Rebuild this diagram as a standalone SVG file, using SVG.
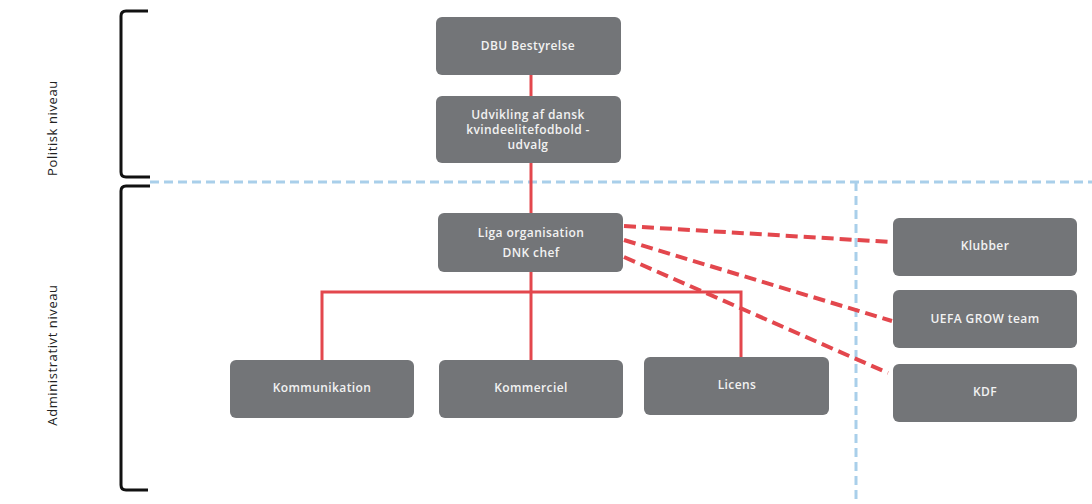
<svg xmlns="http://www.w3.org/2000/svg" width="1092" height="504" viewBox="0 0 1092 504">
<style>
.box{fill:#737578;}
.t{font-family:"Open Sans","Liberation Sans",sans-serif;font-size:12px;font-weight:600;fill:#f2f2f2;text-anchor:middle;letter-spacing:0.4px;}
.lbl{font-family:"Open Sans","Liberation Sans",sans-serif;font-size:13px;fill:#222;text-anchor:middle;letter-spacing:0.6px;}
.br{fill:none;stroke:#111;stroke-width:3;stroke-linejoin:round;}
.sep{fill:none;stroke:#a9cfea;stroke-width:3;stroke-dasharray:9 5;}
.solid{fill:none;stroke:#e3474d;stroke-width:3;}
.dash{fill:none;stroke:#e3474d;stroke-width:4;stroke-dasharray:12 6;}
</style>
<rect width="1092" height="504" fill="#fff"/>
<g id="brackets">
<path class="br" d="M148,11 H126 Q121,11 121,16 V172 Q121,177 126,177 H150"/>
<path class="br" d="M150,186 H126 Q121,186 121,191 V485 Q121,490 126,490 H148"/>
<text class="lbl" transform="translate(57,128) rotate(-90)">Politisk niveau</text>
<text class="lbl" transform="translate(57,355) rotate(-90)">Administrativt  niveau</text>
</g>
<g id="separators">
<path class="sep" d="M150,182 H1092"/>
<path class="sep" d="M856,182 V500"/>
</g>
<g id="connectors">
<path class="solid" d="M531,75 V292"/>
<path class="solid" d="M322,360 V292 H741 V357"/>
<path class="solid" d="M531,292 V360"/>
<path class="dash" d="M624,226 L891,242"/>
<path class="dash" d="M624,240 L892,321"/>
<path class="dash" d="M624,257 L888,373"/>
</g>
<g id="dbu"><rect class="box" x="436" y="17" width="185" height="58" rx="6"/><text class="t" x="528" y="50">DBU Bestyrelse</text></g>
<g id="udvikling"><rect class="box" x="436" y="96" width="185" height="67" rx="6"/>
<text class="t" x="528" y="119">Udvikling af dansk</text>
<text class="t" x="528" y="134">kvindeelitefodbold -</text>
<text class="t" x="528" y="149">udvalg</text></g>
<g id="liga"><rect class="box" x="438" y="213" width="185" height="59" rx="6"/>
<text class="t" x="531" y="237">Liga organisation</text>
<text class="t" x="531" y="257">DNK chef</text></g>
<g id="kommunikation"><rect class="box" x="230" y="360" width="184" height="58" rx="6"/><text class="t" x="322" y="392">Kommunikation</text></g>
<g id="kommerciel"><rect class="box" x="439" y="360" width="184" height="58" rx="6"/><text class="t" x="531" y="392">Kommerciel</text></g>
<g id="licens"><rect class="box" x="644" y="357" width="185" height="58" rx="6"/><text class="t" x="737" y="389">Licens</text></g>
<g id="klubber"><rect class="box" x="893" y="218" width="184" height="58" rx="6"/><text class="t" x="985" y="250">Klubber</text></g>
<g id="uefa"><rect class="box" x="893" y="290" width="184" height="58" rx="6"/><text class="t" x="985" y="323">UEFA GROW team</text></g>
<g id="kdf"><rect class="box" x="893" y="364" width="184" height="58" rx="6"/><text class="t" x="985" y="396">KDF</text></g>
</svg>
